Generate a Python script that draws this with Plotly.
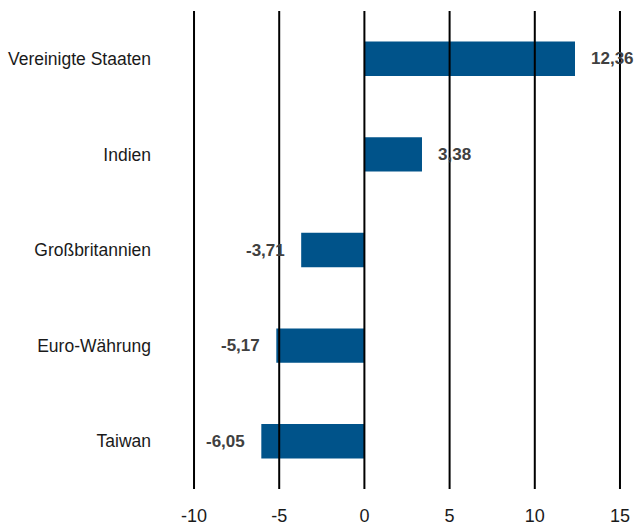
import plotly.graph_objects as go

categories = ["Vereinigte Staaten", "Indien", "Großbritannien", "Euro-Währung", "Taiwan"]
values = [12.36, 3.38, -3.71, -5.17, -6.05]
tick_vals = [-10, -5, 0, 5, 10, 15]
tick_text = ["-10", "-5", "0", "5", "10", "15"]

FONT = "Liberation Sans, Arial, sans-serif"
BAR_COLOR = "#00538A"

fig = go.Figure()
fig.add_trace(go.Bar(
    y=categories, x=values, orientation="h",
    marker=dict(color=BAR_COLOR, line=dict(width=0)),
    width=0.36, hoverinfo="x+y",
))

for c, v in zip(categories, values):
    fig.add_annotation(
        x=v, y=c, xref="x", yref="y",
        text="<b>" + f"{v:.2f}".replace(".", ",") + "</b>",
        showarrow=False,
        xanchor="left" if v >= 0 else "right",
        xshift=14 if v >= 0 else -14,
        font=dict(family=FONT, size=17, color="#404040"),
    )

for t in tick_vals:
    fig.add_shape(type="line", xref="x", yref="paper", x0=t, x1=t, y0=0, y1=1,
                  line=dict(color="black", width=2), layer="above")

fig.update_layout(
    width=635, height=527,
    margin=dict(l=193, r=14, t=11, b=38, autoexpand=False),
    plot_bgcolor="white", paper_bgcolor="white",
    showlegend=False,
    font=dict(family=FONT, size=18, color="#1a1a1a"),
    xaxis=dict(range=[-10.06, 15.06], tickvals=tick_vals, ticktext=tick_text,
               showgrid=False, zeroline=False, showline=False, ticks="",
               ticklabelstandoff=14, tickfont=dict(size=18), automargin=False),
    yaxis=dict(categoryorder="array", categoryarray=categories[::-1],
               range=[-0.5, 4.5], showgrid=False, zeroline=False, showline=False,
               ticks="", ticklabelstandoff=41, tickfont=dict(size=17.5), automargin=False),
)

fig.write_html(
    "out.html",
    config={"displayModeBar": False},
    post_script="document.body.style.margin='0';document.body.style.overflow='hidden';",
)
